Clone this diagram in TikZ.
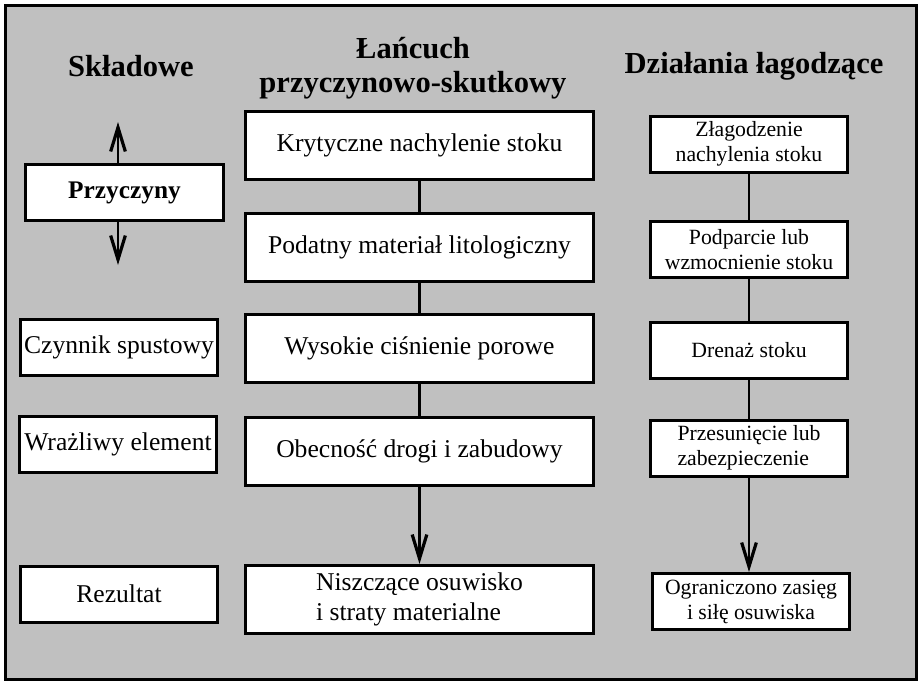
\documentclass[tikz,border=0pt]{standalone}
\usepackage{fontspec}
\setmainfont{Liberation Serif}
\usetikzlibrary{arrows.meta}

\definecolor{tlo}{RGB}{192,192,192}

\tikzset{
	ramka/.style={draw=black,line width=2.25pt,fill=white,inner sep=2pt,
		font=\fontsize{19.2}{22.5}\selectfont},
	lewy/.style={ramka,minimum width=148pt,minimum height=42pt},
	srodek/.style={ramka,minimum width=261pt,minimum height=51pt},
	prawy/.style={ramka,minimum width=148pt,minimum height=42pt,
		font=\fontsize{16.3}{18.8}\selectfont},
	naglowek/.style={font=\bfseries\fontsize{22.9}{25.5}\selectfont,align=center,anchor=base},
	linia/.style={line width=2.2pt},
	strzalka/.style={linia,-{Straight Barb[length=18pt,width=11pt,line width=2.4pt]}}
}

\begin{document}
\begin{tikzpicture}[x=0.75pt,y=-0.75pt]
	\useasboundingbox (0,0) rectangle (919,682);
	\draw[line width=2.25pt,fill=tlo] (5,5) rectangle (916,679);

	% naglowki kolumn
	\node[naglowek] (h1) at (131,76) {Składowe};
	\node[naglowek] (h2) at (413,92) {Łańcuch\\przyczynowo-skutkowy};
	\node[naglowek] (h3) at (754,73) {Działania łagodzące};

	% skladowe
	\node[lewy,font=\bfseries\fontsize{19}{22}\selectfont] (p) at (124.5,192.5) {Przyczyny};
	\node[lewy] (cz) at (119,347) {Czynnik spustowy};
	\node[lewy] (wr) at (118,444) {Wrażliwy element};
	\node[lewy] (re) at (119,594) {Rezultat};
	\coordinate (pgora) at (118,122);
	\coordinate (pdol) at (118,265);
	\draw[strzalka] (p.north -| pgora) -- (pgora);
	\draw[strzalka] (p.south -| pdol) -- (pdol);

	% lancuch
	\node[srodek] (s1) at (419.5,145.5) {Krytyczne nachylenie stoku};
	\node[srodek] (s2) at (419.5,247.5) {Podatny materiał litologiczny};
	\node[srodek] (s3) at (419.5,348) {Wysokie ciśnienie porowe};
	\node[srodek] (s4) at (419.5,451) {Obecność drogi i zabudowy};
	\node[srodek,align=left] (s5) at (419.5,599.5) {Niszczące osuwisko\\i straty materialne};
	\foreach \a/\b in {s1/s2,s2/s3,s3/s4}
		\draw[linia] (\a.south) -- (\b.north);
	\draw[strzalka] (s4.south) -- (s5.north);

	% dzialania
	\node[prawy,align=center] (d1) at (749,144) {Złagodzenie\\nachylenia stoku};
	\node[prawy,align=center] (d2) at (749,249.5) {Podparcie lub\\wzmocnienie stoku};
	\node[prawy] (d3) at (749,350) {Drenaż stoku};
	\node[prawy,align=left] (d4) at (749,448) {Przesunięcie lub\\zabezpieczenie};
	\node[prawy,align=center] (d5) at (751,601.5) {Ograniczono zasięg\\i siłę osuwiska};
	\foreach \a/\b in {d1/d2,d2/d3,d3/d4}
		\draw[linia] (\a.south) -- (\b.north);
	\draw[strzalka] (d4.south) -- (d5.north -| d4.south);
\end{tikzpicture}
\end{document}
